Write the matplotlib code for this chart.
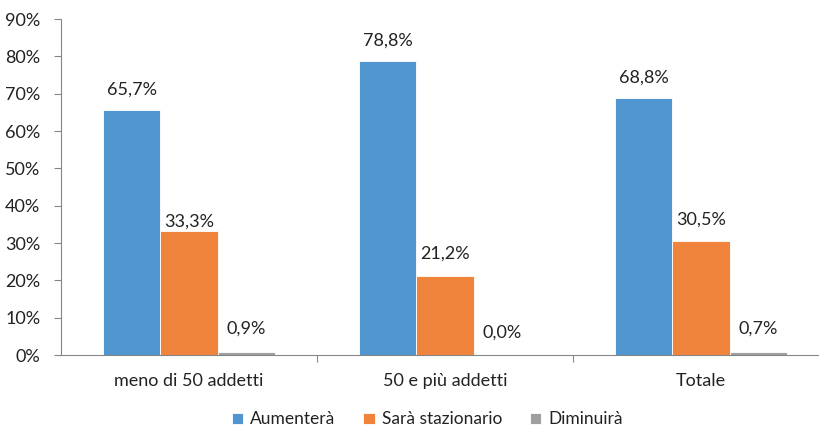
import matplotlib
matplotlib.use("Agg")
import matplotlib.pyplot as plt
import numpy as np

plt.rcParams['font.family'] = ['Lato', 'DejaVu Sans']

categories = ["meno di 50 addetti", "50 e più addetti", "Totale"]
series_names = ["Aumenterà", "Sarà stazionario", "Diminuirà"]
aumentera = [65.7, 78.8, 68.8]
stazionario = [33.3, 21.2, 30.5]
diminuira = [0.9, 0.0, 0.7]
y_ticks = [0, 10, 20, 30, 40, 50, 60, 70, 80, 90]

colors = ["#5094D0", "#F0843C", "#A0A0A0"]
# label offsets in points above bar top
label_offsets = [[9, 9, 9], [1, 10, 10], [11, 10, 11]]

fig = plt.figure(figsize=(8.2, 4.28), dpi=100)
ax = fig.add_axes([61 / 820, 1 - 355 / 428, 1 - 61 / 820, (355 - 19) / 428])

x = np.arange(len(categories))
w = 0.224
all_vals = [aumentera, stazionario, diminuira]
for i, (vals, name) in enumerate(zip(all_vals, series_names)):
    pos = x + (i - 1) * w
    ax.bar(pos, vals, width=w, color=colors[i], edgecolor="white",
           linewidth=0.6, label=name, zorder=2)
    for j, v in enumerate(vals):
        txt = f"{v:.1f}%".replace(".", ",")
        ax.annotate(txt, (pos[j], v), xytext=(0, label_offsets[i][j]),
                    textcoords="offset points", ha="center", va="bottom",
                    fontsize=13, color="#222222")

ax.set_xlim(-0.5, 2.465)
ax.set_ylim(0, 90)
ax.set_yticks(y_ticks)
ax.set_yticklabels([f"{t}%" for t in y_ticks], fontsize=13, color="#222222")
ax.set_xticks([0.5, 1.5])
ax.set_xticklabels([])
ax.set_xticks(x, minor=True)
ax.set_xticklabels(categories, minor=True, fontsize=13, color="#222222")
ax.tick_params(axis="x", which="minor", length=0, pad=13)
ax.tick_params(axis="x", which="major", length=5, color="#868686")
ax.tick_params(axis="y", length=5, color="#868686", pad=10)

for s in ["top", "right"]:
    ax.spines[s].set_visible(False)
ax.spines["left"].set_color("#868686")
ax.spines["bottom"].set_color("#868686")

fig.legend(loc="center", bbox_to_anchor=(0.521, 0.02), ncol=3, frameon=False,
           fontsize=12.5, handlelength=0.65, handleheight=0.65, columnspacing=1.6,
           handletextpad=0.4, labelcolor="#222222")

fig.savefig("out.png", dpi=100)
